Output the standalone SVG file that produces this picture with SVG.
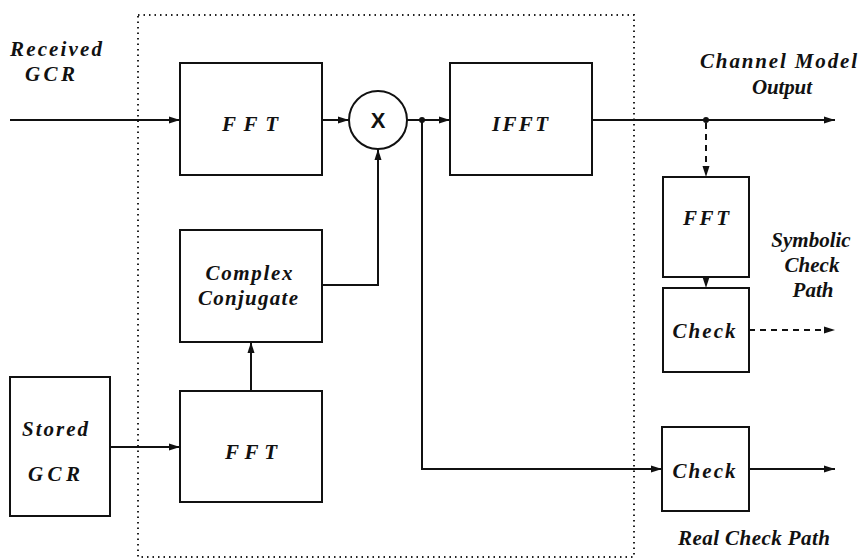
<svg xmlns="http://www.w3.org/2000/svg" width="858" height="559" viewBox="0 0 858 559">
<style>
.box{fill:#fff;stroke:#111;stroke-width:2}
.ln{fill:none;stroke:#111;stroke-width:2}
.dash{fill:none;stroke:#111;stroke-width:2;stroke-dasharray:6 5}
.t{font-family:"Liberation Serif","Times New Roman",Times,serif;font-style:italic;font-weight:bold;font-size:21px;fill:#111}
.x{font-family:"Liberation Sans",Arial,sans-serif;font-weight:bold;font-size:22px;fill:#111}
</style>
<defs>
<marker id="ah" markerUnits="userSpaceOnUse" markerWidth="12" markerHeight="8" refX="11" refY="4" orient="auto">
<path d="M0,0.5 L11,4 L0,7.5 z" fill="#111"/>
</marker>
</defs>
<rect x="138" y="15" width="496" height="542" fill="none" stroke="#222" stroke-width="2" stroke-dasharray="1.5 4"/>
<g id="connectors">
<line class="ln" x1="10" y1="120" x2="180" y2="120" marker-end="url(#ah)"/>
<line class="ln" x1="322" y1="120" x2="349" y2="120" marker-end="url(#ah)"/>
<line class="ln" x1="407" y1="120" x2="450" y2="120" marker-end="url(#ah)"/>
<circle cx="422" cy="120" r="3" fill="#111"/>
<polyline class="ln" points="422,120 422,469 662,469" marker-end="url(#ah)"/>
<polyline class="ln" points="322,285 378,285 378,149" marker-end="url(#ah)"/>
<line class="ln" x1="251" y1="391" x2="251" y2="342" marker-end="url(#ah)"/>
<line class="ln" x1="110" y1="447" x2="180" y2="447" marker-end="url(#ah)"/>
<line class="ln" x1="592" y1="120" x2="835" y2="120" marker-end="url(#ah)"/>
<circle cx="706" cy="120" r="3" fill="#111"/>
<line class="dash" x1="706" y1="123" x2="706" y2="177" marker-end="url(#ah)"/>
<line class="dash" x1="706" y1="277" x2="706" y2="288" marker-end="url(#ah)"/>
<line class="dash" x1="749" y1="330" x2="835" y2="330" marker-end="url(#ah)"/>
<line class="ln" x1="749" y1="469" x2="835" y2="469" marker-end="url(#ah)"/>
</g>
<g id="fft1"><rect class="box" x="180" y="63" width="142" height="112"/><text class="t" x="250" y="131" text-anchor="middle" textLength="56" lengthAdjust="spacing">FFT</text></g>
<g id="mult"><circle class="box" cx="378" cy="120" r="29"/><text class="x" x="378" y="128" text-anchor="middle">X</text></g>
<g id="ifft"><rect class="box" x="450" y="63" width="142" height="112"/><text class="t" x="520" y="131" text-anchor="middle" textLength="56" lengthAdjust="spacing">IFFT</text></g>
<g id="cc"><rect class="box" x="180" y="230" width="142" height="112"/><text class="t" x="249" y="280" text-anchor="middle" textLength="87" lengthAdjust="spacing">Complex</text><text class="t" x="248" y="305" text-anchor="middle" textLength="100" lengthAdjust="spacing">Conjugate</text></g>
<g id="fft2"><rect class="box" x="180" y="391" width="142" height="111"/><text class="t" x="251" y="459" text-anchor="middle" textLength="52" lengthAdjust="spacing">FFT</text></g>
<g id="stored"><rect class="box" x="10" y="377" width="100" height="139"/><text class="t" x="55" y="436" text-anchor="middle" textLength="66" lengthAdjust="spacing">Stored</text><text class="t" x="54" y="481" text-anchor="middle" textLength="52" lengthAdjust="spacing">GCR</text></g>
<g id="fft3"><rect class="box" x="663" y="177" width="86" height="100"/><text class="t" x="706" y="225" text-anchor="middle" textLength="46" lengthAdjust="spacing">FFT</text></g>
<g id="check1"><rect class="box" x="663" y="288" width="86" height="84"/><text class="t" x="704" y="338" text-anchor="middle" textLength="63" lengthAdjust="spacing">Check</text></g>
<g id="check2"><rect class="box" x="662" y="427" width="87" height="84"/><text class="t" x="704" y="478" text-anchor="middle" textLength="63" lengthAdjust="spacing">Check</text></g>
<g id="labels">
<text class="t" x="10" y="56" textLength="92" lengthAdjust="spacing">Received</text>
<text class="t" x="25" y="81" textLength="50" lengthAdjust="spacing">GCR</text>
<text class="t" x="700" y="68" textLength="157" lengthAdjust="spacing">Channel Model</text>
<text class="t" x="752" y="94" textLength="60" lengthAdjust="spacing">Output</text>
<text class="t" x="811" y="247" text-anchor="middle">Symbolic</text>
<text class="t" x="812" y="272" text-anchor="middle">Check</text>
<text class="t" x="813" y="297" text-anchor="middle">Path</text>
<text class="t" x="678" y="545" textLength="152" lengthAdjust="spacing">Real Check Path</text>
</g>
</svg>
